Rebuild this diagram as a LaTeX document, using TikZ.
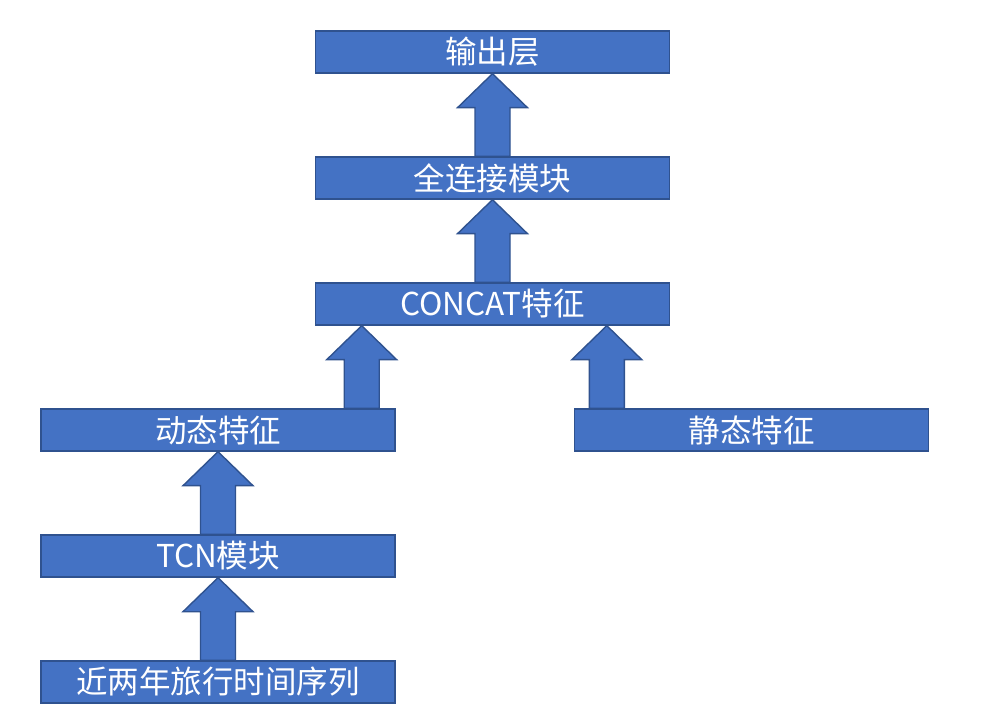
\documentclass[tikz,border=0pt]{standalone}
\usepackage{fontspec}
\setmainfont{Noto Sans CJK SC}
\usepackage{xcolor}
\usetikzlibrary{calc}
\definecolor{boxblue}{HTML}{4472C4}
\definecolor{edgeblue}{HTML}{2F528F}
% block arrow from #1 (bottom) up to #2 (tip)
\newcommand{\blockarrow}[2]{%
  \path[arr] let \p1=#1, \p2=#2 in
    (\x1-17.5pt,\y1) -- (\x1+17.5pt,\y1) -- (\x1+17.5pt,\y2-34pt)
    -- (\x1+35pt,\y2-34pt) -- (\x1,\y2) -- (\x1-35pt,\y2-34pt)
    -- (\x1-17.5pt,\y2-34pt) -- cycle;}

\begin{document}
\begin{tikzpicture}[
  x=1pt,y=1pt,
  font=\fontsize{31.5}{36}\selectfont,
  box/.style={draw=edgeblue,line width=1.4pt,fill=boxblue,text=white,
    minimum width=354pt,minimum height=42pt,inner sep=0pt},
  arr/.style={draw=edgeblue,line width=1.4pt,fill=boxblue,line join=miter},
]
\useasboundingbox (0,0) rectangle (992,720);
\node[box] (out) at (492.5,668) {输出层};
\node[box] (fc) at (492.5,542) {全连接模块};
\node[box] (concat) at (492.5,416) {CONCAT特征};
\node[box] (dyn) at (218,290) {动态特征};
\node[box] (stat) at (751.5,290) {静态特征};
\node[box] (tcn) at (218,164) {TCN模块};
\node[box] (seq) at (218,38) {近两年旅行时间序列};
\coordinate (lft) at ($(dyn.north east)+(-34,0)$);
\coordinate (rgt) at ($(stat.north west)+(33,0)$);
\blockarrow{(fc.north)}{(out.south)}
\blockarrow{(concat.north)}{(fc.south)}
\blockarrow{(lft)}{(concat.south -| lft)}
\blockarrow{(rgt)}{(concat.south -| rgt)}
\blockarrow{(tcn.north)}{(dyn.south)}
\blockarrow{(seq.north)}{(tcn.south)}
\end{tikzpicture}
\end{document}
